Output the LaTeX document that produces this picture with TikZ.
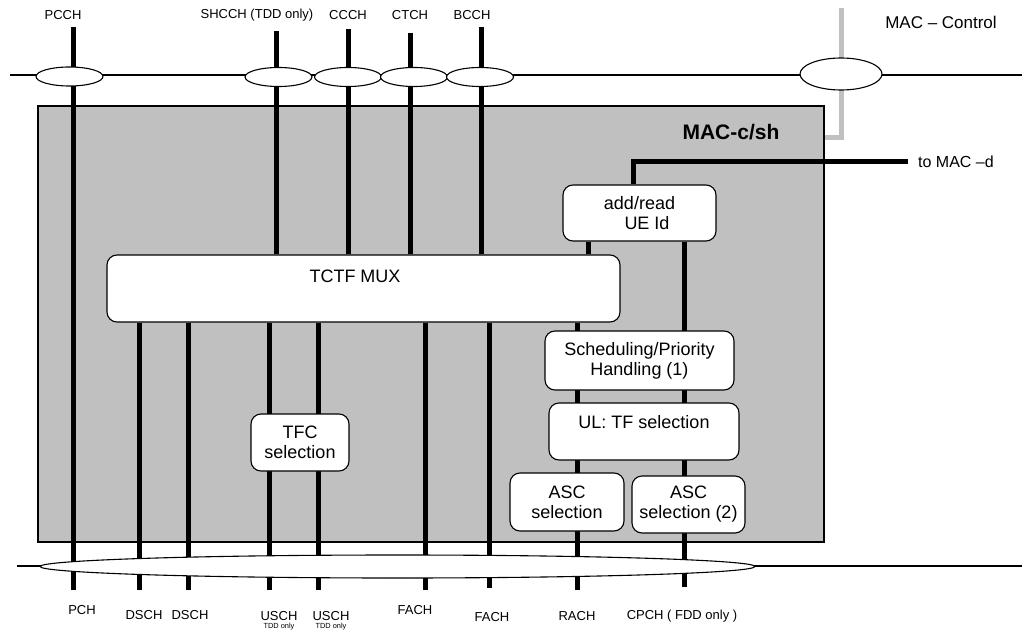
\documentclass[tikz,border=0pt]{standalone}
\usepackage{fontspec}
\setmainfont{Liberation Sans}
\usetikzlibrary{shapes.geometric}
\pgfdeclarelayer{back}
\pgfdeclarelayer{mid}
\pgfsetlayers{back,mid,main}
\definecolor{macgray}{HTML}{C0C0C0}
\tikzset{
  busline/.style={line width=1.3pt},
  chan/.style={line width=5pt},
  ctrl/.style={line width=5pt, draw=macgray},
  fbox/.style={draw, line width=1.1pt, fill=white, rounded corners=10pt, inner sep=0pt, align=center, font=\fontsize{18}{20}\selectfont},
  oval/.style={ellipse, draw, line width=1.1pt, fill=white, inner sep=0pt},
  lbl/.style={inner sep=0pt, font=\fontsize{13}{15}\selectfont},
  tiny lbl/.style={inner sep=0pt, font=\fontsize{7.4}{8}\selectfont},
}
\begin{document}
\begin{tikzpicture}[x=1pt,y=-1pt]
\useasboundingbox (0,0) rectangle (1022,631);

% MAC-c/sh box
\begin{pgfonlayer}{back}
\node[draw, line width=1.1pt, fill=macgray, minimum width=786pt, minimum height=436pt, inner sep=0pt] (macbox) at (431,324) {};
\end{pgfonlayer}
\node[inner sep=0pt, font=\bfseries\fontsize{21}{24}\selectfont] (macname) at (731,132) {MAC-c/sh};

% functional boxes
\node[fbox, minimum width=153pt, minimum height=56pt] (addread) at (639.5,213) {add/read\\\hspace*{15pt}UE Id};
\node[fbox, minimum width=513pt, minimum height=67pt] (tctf) at (363.5,288.5) {};
\node[inner sep=0pt, font=\fontsize{18}{20}\selectfont] (tctftext) at (355,276) {TCTF MUX};
\node[fbox, minimum width=189pt, minimum height=59pt] (sched) at (639.5,360.5) {Scheduling/Priority\\Handling (1)};
\node[fbox, minimum width=190pt, minimum height=57pt] (ul) at (644,431.5) {};
\node[inner sep=0pt, font=\fontsize{18}{20}\selectfont] (ultext) at (644,422) {UL: TF selection};
\node[fbox, minimum width=98pt, minimum height=57pt] (tfc) at (300,442.5) {TFC\\selection};
\node[fbox, minimum width=114pt, minimum height=58pt] (asc1) at (567,502) {ASC\\selection};
\node[fbox, minimum width=113pt, minimum height=57pt] (asc2) at (688.5,504.5) {ASC\\selection (2)};

% ellipses
\node[oval, minimum width=67pt, minimum height=19pt] (e1) at (69.5,76.5) {};
\node[oval, minimum width=67pt, minimum height=19pt] (e2) at (278.5,77) {};
\node[oval, minimum width=67pt, minimum height=19pt] (e3) at (348,77) {};
\node[oval, minimum width=67pt, minimum height=19pt] (e4) at (414,77) {};
\node[oval, minimum width=67pt, minimum height=19pt] (e5) at (480,77) {};
\node[oval, minimum width=82pt, minimum height=32pt] (emac) at (841,74) {};
\node[oval, minimum width=715pt, minimum height=23pt] (ebot) at (397.5,566.5) {};

% coordinates
\coordinate (topl) at (10,75);
\coordinate (topr) at (1022,75);
\coordinate (botl) at (17,566);
\coordinate (botr) at (1022,566);
\coordinate (pcchtop) at (73,27);
\coordinate (pchbot) at (73,590);
\coordinate (shtop) at (276,31);
\coordinate (cctop) at (348,29);
\coordinate (cttop) at (410,33);
\coordinate (bctop) at (481,27);
\coordinate (ds1) at (139,590);
\coordinate (ds2) at (188,590);
\coordinate (us1) at (269,590);
\coordinate (us2) at (318,590);
\coordinate (fa1) at (425,590);
\coordinate (fa2) at (489,588);
\coordinate (arl) at (588,241);
\coordinate (rachbot) at (577,590);
\coordinate (cpchbot) at (684,587);
\coordinate (tmdcorner) at (633,162);
\coordinate (tomacd) at (908,162);
\coordinate (ctrltop) at (841,8);
\coordinate (ctrlbend) at (841,138);

\begin{pgfonlayer}{mid}
\draw[busline] (topl) -- (topr);
\draw[busline] (botl) -- (botr);
\draw[chan] (pcchtop) -- (pchbot);
\draw[chan] (shtop) -- (shtop |- tctf.north);
\draw[chan] (cctop) -- (cctop |- tctf.north);
\draw[chan] (cttop) -- (cttop |- tctf.north);
\draw[chan] (bctop) -- (bctop |- tctf.north);
\foreach \c in {ds1,ds2,us1,us2,fa1,fa2,rachbot}
  \draw[chan] (\c |- tctf.south) -- (\c);
\draw[chan] (arl |- addread.south) -- (arl |- tctf.north);
\draw[chan] (cpchbot |- addread.south) -- (cpchbot);
\draw[chan, line join=miter] (tmdcorner |- addread.north) -- (tmdcorner) -- (tomacd);
\draw[ctrl, line join=miter] (ctrltop) -- (ctrlbend) -- (ctrlbend -| macbox.east);
\end{pgfonlayer}

% labels
\node[lbl] (l1) at (63,15) {PCCH};
\node[lbl] (l2) at (257,15) {SHCCH (TDD only)};
\node[lbl] (l3) at (348,15) {CCCH};
\node[lbl] (l4) at (410,15) {CTCH};
\node[lbl] (l5) at (472,15) {BCCH};
\node[inner sep=0pt, font=\fontsize{17}{19}\selectfont] (lctrl) at (941,22) {MAC – Control};
\node[inner sep=0pt, font=\fontsize{16}{18}\selectfont] (lmacd) at (956,162) {to MAC –d};

\node[lbl] (b1) at (82,610) {PCH};
\node[lbl] (b2) at (144,615) {DSCH};
\node[lbl] (b3) at (190,615) {DSCH};
\node[lbl] (b4) at (279,616) {USCH};
\node[lbl] (b5) at (331,616) {USCH};
\node[tiny lbl] (b4t) at (279,627) {TDD only};
\node[tiny lbl] (b5t) at (331,627) {TDD only};
\node[lbl] (b6) at (415,610) {FACH};
\node[lbl] (b7) at (492,617) {FACH};
\node[lbl] (b8) at (577,616) {RACH};
\node[lbl] (b9) at (682,616) {CPCH ( FDD only )};
\end{tikzpicture}
\end{document}
